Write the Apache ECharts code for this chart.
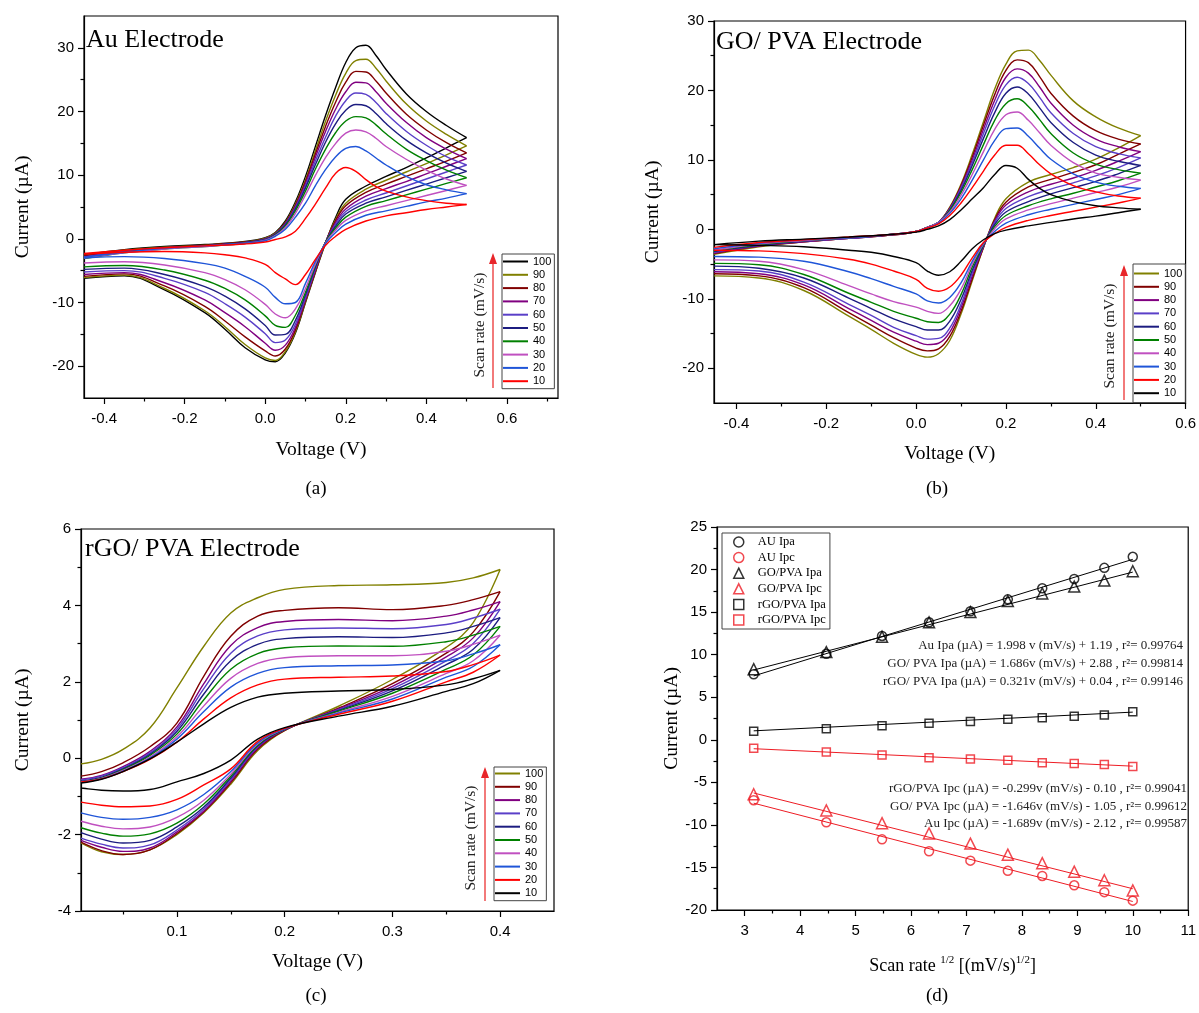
<!DOCTYPE html>
<html><head><meta charset="utf-8">
<script src="https://cdn.jsdelivr.net/npm/echarts@6/dist/echarts.min.js"></script>
<style>html,body{margin:0;padding:0;background:#fff}#c{width:1199px;height:1013px}</style>
</head><body><div id="c"></div><script>
// ---------- DATA ----------
const RATES = ['100','90','80','70','60','50','40','30','20','10'];

// Panel (a) Au electrode: forward (upper) and reverse (lower) branches
const aV_up = [-0.45,-0.35,-0.25,-0.15,-0.05,0.0,0.025,0.05,0.075,0.1,0.125,0.15,0.175,0.2,0.225,0.25,0.275,0.3,0.35,0.4,0.45,0.5];
const aV_dn = [0.5,0.45,0.4,0.35,0.3,0.25,0.2,0.175,0.15,0.125,0.1,0.075,0.05,0.025,0.0,-0.05,-0.1,-0.15,-0.25,-0.35,-0.45];
const aUp = [
 [-2.5,-1.7,-1.2,-0.9,-0.4,0.2,1.0,2.8,5.8,9.8,14.6,19.4,23.8,27.7,30.0,30.4,28.8,26.6,22.8,20.0,17.8,15.9],
 [-2.6,-1.8,-1.3,-1.0,-0.5,0.1,0.9,2.6,5.5,9.3,13.9,18.5,22.6,26.0,28.0,28.2,26.8,24.8,21.2,18.5,16.4,14.6],
 [-2.7,-1.9,-1.4,-1.0,-0.5,0.0,0.8,2.5,5.3,9.0,13.4,17.7,21.5,24.6,26.3,26.2,24.8,22.9,19.6,17.1,15.1,13.5],
 [-2.8,-2.0,-1.4,-1.1,-0.6,0.0,0.8,2.4,5.1,8.7,12.9,16.9,20.4,23.1,24.6,24.5,23.1,21.3,18.3,15.9,14.1,12.6],
 [-2.9,-2.0,-1.5,-1.1,-0.6,-0.1,0.7,2.3,4.9,8.3,12.3,16.0,19.3,21.7,22.9,22.7,21.4,19.7,16.9,14.7,12.9,11.6],
 [-3.0,-2.1,-1.5,-1.1,-0.6,-0.1,0.7,2.2,4.7,8.0,11.7,15.2,18.1,20.2,21.1,20.9,19.7,18.1,15.5,13.5,11.9,10.6],
 [-3.1,-2.2,-1.6,-1.2,-0.7,-0.2,0.6,2.0,4.4,7.5,11.0,14.1,16.7,18.5,19.2,19.0,17.9,16.5,14.1,12.3,10.8,9.6],
 [-3.0,-2.2,-1.6,-1.2,-0.7,-0.2,0.5,1.8,4.0,6.9,10.0,12.8,15.0,16.6,17.1,16.8,15.8,14.5,12.5,10.8,9.4,8.4],
 [-2.9,-2.1,-1.5,-1.1,-0.7,-0.3,0.4,1.5,3.4,5.6,8.4,10.9,12.9,14.2,14.5,13.8,12.7,11.6,9.8,8.5,7.7,7.1],
 [-2.3,-1.8,-1.4,-1.1,-0.8,-0.5,-0.1,0.3,1.2,3.2,5.5,8.0,10.3,11.2,10.6,9.3,8.2,7.5,6.6,6.0,5.6,5.4]
];
const aDn = [
 [15.9,14.3,12.7,11.2,9.8,8.3,6.2,3.4,-0.6,-5.2,-10.0,-14.8,-17.9,-19.3,-19.0,-17.1,-14.2,-11.6,-8.0,-5.8,-6.2],
 [14.6,13.2,11.8,10.5,9.2,7.8,5.6,3.1,-0.6,-5.1,-9.9,-14.6,-17.7,-19.1,-18.7,-16.6,-13.8,-11.3,-7.8,-5.7,-6.1],
 [13.5,12.2,11.0,9.8,8.6,7.3,5.2,2.9,-0.5,-5.0,-9.7,-14.3,-17.3,-18.4,-17.6,-15.4,-12.9,-10.6,-7.4,-5.5,-5.9],
 [12.6,11.4,10.2,9.0,7.9,6.7,4.7,2.6,-0.5,-4.8,-9.5,-13.9,-16.7,-17.5,-16.4,-13.8,-11.6,-9.6,-6.9,-5.3,-5.6],
 [11.6,10.5,9.4,8.3,7.2,6.1,4.3,2.3,-0.5,-4.6,-9.2,-13.4,-15.9,-16.3,-14.9,-12.3,-10.2,-8.4,-6.2,-5.0,-5.2],
 [10.6,9.6,8.6,7.6,6.6,5.6,3.9,2.0,-0.5,-4.4,-8.8,-12.8,-15.0,-15.1,-13.6,-11.0,-9.0,-7.5,-5.6,-4.6,-4.8],
 [9.6,8.7,7.8,6.9,6.0,5.1,3.4,1.7,-0.5,-4.1,-8.4,-12.0,-13.9,-13.6,-12.1,-9.6,-7.8,-6.5,-4.9,-4.2,-4.4],
 [8.4,7.6,6.8,6.0,5.2,4.4,2.9,1.4,-0.6,-3.9,-7.8,-11.0,-12.4,-11.8,-10.3,-8.0,-6.4,-5.3,-4.1,-3.6,-3.8],
 [7.1,6.4,5.8,5.1,4.4,3.7,2.3,1.0,-0.7,-3.5,-7.0,-10.0,-10.2,-9.2,-7.6,-5.9,-4.6,-3.9,-3.1,-2.8,-3.0],
 [5.4,5.0,4.6,4.1,3.6,2.8,1.5,0.4,-1.0,-3.2,-5.6,-7.2,-6.3,-5.3,-4.0,-3.0,-2.5,-2.2,-2.0,-2.1,-2.4]
];

// Panel (b) GO/PVA electrode
const bV_up = [-0.45,-0.35,-0.25,-0.15,-0.05,0.0,0.025,0.05,0.075,0.1,0.125,0.15,0.175,0.2,0.225,0.25,0.275,0.3,0.35,0.4,0.45,0.5];
const bV_dn = [0.5,0.45,0.4,0.35,0.3,0.25,0.2,0.175,0.15,0.125,0.1,0.075,0.05,0.025,0.0,-0.05,-0.1,-0.15,-0.25,-0.35,-0.45];
const bUp = [
 [-3.6,-2.5,-1.8,-1.3,-0.8,-0.3,0.3,1.0,3.2,6.5,10.8,15.5,20.2,23.8,25.7,25.8,24.3,22.2,18.5,16.2,14.6,13.5],
 [-3.5,-2.4,-1.8,-1.3,-0.8,-0.3,0.3,1.0,3.1,6.3,10.4,15.0,19.4,22.9,24.4,24.0,22.0,19.6,16.3,14.2,13.0,12.3],
 [-3.4,-2.4,-1.8,-1.3,-0.8,-0.3,0.3,1.0,3.0,6.1,10.0,14.4,18.6,21.9,23.1,22.5,20.5,18.2,15.0,13.0,11.9,11.2],
 [-3.3,-2.3,-1.7,-1.3,-0.7,-0.3,0.3,1.0,2.9,5.9,9.6,13.8,17.8,20.8,21.9,21.0,19.0,16.8,13.8,11.9,10.9,10.3],
 [-3.2,-2.3,-1.7,-1.2,-0.7,-0.3,0.3,1.0,2.8,5.6,9.2,13.1,16.8,19.6,20.5,19.5,17.5,15.4,12.5,10.7,9.8,9.2],
 [-3.1,-2.2,-1.6,-1.2,-0.7,-0.3,0.3,1.0,2.7,5.3,8.6,12.2,15.7,18.1,18.8,17.7,15.8,13.8,11.0,9.4,8.6,8.1],
 [-3.0,-2.1,-1.6,-1.2,-0.7,-0.3,0.3,1.0,2.5,4.9,7.9,11.2,14.4,16.5,16.9,15.7,13.9,12.1,9.6,8.1,7.5,7.1],
 [-2.8,-2.0,-1.5,-1.2,-0.7,-0.3,0.2,0.9,2.3,4.4,7.1,10.0,12.8,14.5,14.6,13.4,11.7,10.1,8.0,6.8,6.2,5.9],
 [-2.6,-1.9,-1.5,-1.1,-0.7,-0.3,0.2,0.8,2.0,3.8,6.0,8.4,10.7,12.1,12.1,10.9,9.3,8.0,6.3,5.4,4.8,4.5],
 [-2.2,-1.7,-1.4,-1.1,-0.7,-0.4,0.0,0.5,1.4,2.8,4.4,6.0,7.9,9.2,8.8,7.2,5.9,5.0,4.0,3.4,3.1,2.9]
];
const bDn = [
 [13.5,11.7,10.1,8.9,7.9,6.8,4.4,1.6,-2.6,-7.4,-12.2,-16.0,-17.9,-18.4,-18.0,-16.4,-14.4,-12.5,-8.8,-7.0,-6.7],
 [12.3,10.8,9.3,8.2,7.2,6.1,3.9,1.4,-2.6,-7.1,-11.8,-15.4,-17.2,-17.5,-17.1,-15.6,-13.8,-12.0,-8.4,-6.7,-6.4],
 [11.2,9.8,8.5,7.4,6.5,5.4,3.5,1.2,-2.5,-6.7,-11.3,-14.8,-16.4,-16.6,-16.1,-14.8,-13.1,-11.4,-8.0,-6.4,-6.1],
 [10.3,8.9,7.7,6.7,5.8,4.7,3.0,1.0,-2.4,-6.3,-10.8,-14.2,-15.7,-15.8,-15.3,-14.1,-12.4,-10.8,-7.6,-6.0,-5.8],
 [9.2,8.0,6.9,6.0,5.1,4.0,2.5,0.7,-2.3,-5.9,-10.1,-13.2,-14.5,-14.5,-14.0,-12.9,-11.4,-9.9,-7.0,-5.6,-5.3],
 [8.1,7.0,6.1,5.2,4.4,3.4,2.0,0.4,-2.2,-5.4,-9.4,-12.2,-13.4,-13.3,-12.8,-11.8,-10.5,-9.2,-6.5,-5.1,-4.9],
 [7.1,6.1,5.3,4.5,3.7,2.8,1.5,0.1,-2.1,-5.0,-8.6,-11.0,-12.1,-11.8,-11.2,-10.4,-9.3,-8.1,-5.8,-4.6,-4.4],
 [5.9,5.0,4.3,3.6,2.9,2.1,0.9,-0.3,-2.0,-4.6,-7.7,-9.8,-10.6,-10.3,-9.3,-8.2,-7.1,-6.1,-4.6,-4.0,-3.9],
 [4.5,3.8,3.2,2.6,2.0,1.3,0.3,-0.6,-1.9,-4.1,-6.6,-8.3,-8.9,-8.5,-7.2,-6.0,-5.0,-4.3,-3.5,-3.1,-3.0],
 [2.9,2.4,1.9,1.5,1.0,0.5,-0.1,-0.6,-1.5,-2.8,-4.6,-6.1,-6.6,-6.0,-4.8,-3.9,-3.3,-3.0,-2.5,-2.3,-2.2]
];

// Panel (c) rGO/PVA electrode
const cV_up = [0.011,0.03,0.05,0.075,0.1,0.125,0.15,0.175,0.2,0.25,0.3,0.35,0.375,0.4];
const cV_dn = [0.4,0.375,0.35,0.3,0.25,0.2,0.175,0.15,0.125,0.1,0.075,0.05,0.03,0.011];
const cUp = [
 [-0.15,-0.03,0.23,0.79,1.84,2.93,3.8,4.2,4.42,4.52,4.54,4.6,4.72,4.94],
 [-0.47,-0.35,-0.12,0.3,0.92,2.15,3.19,3.72,3.87,3.94,3.89,4.0,4.15,4.36],
 [-0.55,-0.45,-0.22,0.18,0.82,1.95,2.95,3.42,3.58,3.63,3.6,3.72,3.88,4.1],
 [-0.57,-0.47,-0.25,0.14,0.76,1.82,2.75,3.2,3.36,3.41,3.39,3.5,3.67,3.9],
 [-0.6,-0.5,-0.28,0.1,0.7,1.68,2.55,2.98,3.13,3.18,3.16,3.28,3.45,3.68],
 [-0.62,-0.52,-0.3,0.07,0.63,1.53,2.33,2.74,2.89,2.94,2.93,3.05,3.22,3.45],
 [-0.62,-0.53,-0.32,0.03,0.56,1.37,2.09,2.48,2.63,2.68,2.68,2.8,2.98,3.22],
 [-0.63,-0.54,-0.34,0.0,0.5,1.22,1.86,2.22,2.37,2.42,2.44,2.55,2.73,2.97],
 [-0.62,-0.54,-0.35,-0.03,0.42,1.03,1.58,1.92,2.07,2.12,2.15,2.27,2.45,2.7],
 [-0.65,-0.55,-0.35,-0.02,0.42,0.9,1.33,1.6,1.7,1.76,1.8,1.92,2.08,2.3]
];
const cDn = [
 [4.94,3.55,2.9,2.06,1.36,0.72,0.2,-0.68,-1.43,-2.0,-2.4,-2.52,-2.45,-2.22],
 [4.36,3.3,2.75,1.95,1.31,0.73,0.24,-0.64,-1.4,-1.97,-2.4,-2.52,-2.42,-2.2],
 [4.1,3.15,2.65,1.88,1.29,0.74,0.27,-0.6,-1.38,-1.93,-2.35,-2.44,-2.33,-2.15],
 [3.9,3.0,2.55,1.82,1.27,0.75,0.3,-0.56,-1.33,-1.88,-2.27,-2.35,-2.25,-2.09],
 [3.68,2.85,2.45,1.76,1.25,0.75,0.32,-0.52,-1.28,-1.8,-2.15,-2.22,-2.12,-1.95],
 [3.45,2.7,2.33,1.7,1.23,0.76,0.34,-0.47,-1.2,-1.7,-1.98,-2.04,-1.96,-1.82],
 [3.22,2.55,2.22,1.62,1.2,0.77,0.37,-0.42,-1.1,-1.55,-1.8,-1.85,-1.78,-1.65],
 [2.97,2.4,2.12,1.55,1.18,0.77,0.4,-0.35,-0.95,-1.35,-1.55,-1.6,-1.55,-1.43],
 [2.7,2.25,2.0,1.49,1.15,0.78,0.44,-0.28,-0.7,-1.08,-1.25,-1.27,-1.23,-1.15],
 [2.3,1.95,1.75,1.36,1.1,0.8,0.5,-0.05,-0.4,-0.62,-0.82,-0.86,-0.84,-0.78]
];

// Panel (d) peak currents vs sqrt(scan rate)
const dX = [3.162,4.472,5.477,6.325,7.071,7.746,8.367,8.944,9.487,10.0];
const auIpa = [7.7,10.1,12.2,13.8,15.1,16.5,17.8,18.9,20.2,21.5];
const auIpc = [-7.1,-9.7,-11.7,-13.1,-14.2,-15.4,-16.0,-17.1,-17.9,-18.9];
const goIpa = [8.3,10.3,12.1,13.8,15.0,16.3,17.2,18.0,18.7,19.8];
const goIpc = [-6.4,-8.3,-9.8,-11.0,-12.2,-13.5,-14.5,-15.5,-16.5,-17.7];
const rgoIpa = [1.0,1.3,1.65,1.95,2.15,2.4,2.6,2.75,2.9,3.3];
const rgoIpc = [-1.0,-1.45,-1.8,-2.1,-2.25,-2.4,-2.7,-2.8,-2.9,-3.15];
// fitted line end points
const fitX = [3.162,10.0];
const auIpaFit = [7.5,21.2];
const goIpaFit = [8.2,19.7];
const rgoIpaFit = [1.05,3.25];
const rgoIpcFit = [-1.05,-3.1];
const goIpcFit = [-6.25,-17.5];
const auIpcFit = [-7.45,-19.0];
const eqTop = [
 'Au Ipa (\u00b5A) = 1.998 v (mV/s) + 1.19 , r\u00b2= 0.99764',
 'GO/ PVA Ipa (\u00b5A) = 1.686v (mV/s) + 2.88 , r\u00b2= 0.99814',
 'rGO/ PVA Ipa (\u00b5A) = 0.321v (mV/s) + 0.04 , r\u00b2= 0.99146'
];
const eqBottom = [
 'rGO/PVA Ipc (\u00b5A) = -0.299v (mV/s) - 0.10 , r\u00b2= 0.99041',
 'GO/ PVA Ipc (\u00b5A) = -1.646v (mV/s) - 1.05 , r\u00b2= 0.99612',
 'Au Ipc (\u00b5A) = -1.689v (mV/s) - 2.12 , r\u00b2= 0.99587'
];

// tick values
const abXMajor = [-0.4,-0.2,0,0.2,0.4,0.6];
const aXMinor = [-0.3,-0.1,0.1,0.3,0.5,0.7];
const bXMinor = [-0.3,-0.1,0.1,0.3,0.5];
const abYMajor = [-20,-10,0,10,20,30];
const aYMinor = [-15,-5,5,15,25];
const bYMinor = [-15,-5,5,15,25];
const cXMajor = [0.1,0.2,0.3,0.4];
const cXMinor = [0.05,0.15,0.25,0.35];
const cYMajor = [-4,-2,0,2,4,6];
const cYMinor = [-3,-1,1,3,5];
const dXMajor = [3,4,5,6,7,8,9,10,11];
const dXMinor = [3.5,4.5,5.5,6.5,7.5,8.5,9.5,10.5];
const dYMajor = [-20,-15,-10,-5,0,5,10,15,20,25];
const dYMinor = [-17.5,-12.5,-7.5,-2.5,2.5,7.5,12.5,17.5,22.5];

// ---------- STYLE ----------
const SANS = '"Liberation Sans", Arial, sans-serif';
const SERIF = '"Liberation Serif", "Times New Roman", serif';
const COL_A = ['#000000','#808000','#800000','#800080','#5a3fc8','#1c1c80','#008000','#c050c0','#1f55d8','#ff0000'];
const COL_BC = ['#808000','#800000','#800080','#5a3fc8','#1c1c80','#008000','#c050c0','#1f55d8','#ff0000','#000000'];
const RED = '#ee1c24';

const grids = [
  {left:84, top:16, width:474, height:382},
  {left:714, top:21, width:474, height:382},
  {left:81, top:529, width:473, height:382},
  {left:717, top:527, width:473, height:383}
].map(g => Object.assign(g, {show:true, borderColor:'#000', borderWidth:1.2, backgroundColor:'transparent'}));

function fmt1(v){ return v.toFixed(1); }
function fmt0(v){ return String(v); }

function axisPair(dim, g, min, max, major, minor, fmt, name, nameGap, nameStyle) {
  const pos = dim === 'x' ? 'bottom' : 'left';
  const main = {
    type:'value', gridIndex:g, min, max, position:pos,
    axisLine:{show:true, onZero:false, lineStyle:{color:'#000', width:1.2}},
    axisTick:{show:true, customValues:major, length:6, lineStyle:{color:'#000', width:1.2}},
    axisLabel:{show:true, customValues:major, formatter:fmt, margin: dim==='x'?13:10,
      fontFamily:SANS, fontSize:15, color:'#000'},
    splitLine:{show:false},
    name, nameLocation:'middle', nameGap,
    nameTextStyle: nameStyle || {fontFamily:SERIF, fontSize:19.5, color:'#000'}
  };
  if (dim === 'y') main.nameRotate = 90;
  const sub = {
    type:'value', gridIndex:g, min, max, position:pos,
    axisLine:{show:false, onZero:false},
    axisTick:{show:true, customValues:minor, length:3.5, lineStyle:{color:'#000', width:1.2}},
    axisLabel:{show:false}, splitLine:{show:false}
  };
  return [main, sub];
}

const dXNameStyle = {
  rich:{
    t:{fontFamily:SERIF, fontSize:18, color:'#000', lineHeight:22},
    s:{fontFamily:SERIF, fontSize:11, color:'#000', lineHeight:12, verticalAlign:'top'}
  }
};

const xAxis = [].concat(
  axisPair('x',0,-0.45,0.727,abXMajor,aXMinor,fmt1,'Voltage (V)',42),
  axisPair('x',1,-0.45,0.6,abXMajor,bXMinor,fmt1,'Voltage (V)',41),
  axisPair('x',2,0.011,0.45,cXMajor,cXMinor,fmt1,'Voltage (V)',41),
  axisPair('x',3,2.5,11,dXMajor,dXMinor,fmt0,'{t|Scan rate }{s|1/2}{t| [(mV/s)}{s|1/2}{t|]}',45,dXNameStyle)
);
const yAxis = [].concat(
  axisPair('y',0,-25,35,abYMajor,aYMinor,fmt0,'Current (\u00b5A)',51),
  axisPair('y',1,-25,30,abYMajor,bYMinor,fmt0,'Current (\u00b5A)',51),
  axisPair('y',2,-4,6,cYMajor,cYMinor,fmt0,'Current (\u00b5A)',48),
  axisPair('y',3,-20,25,dYMajor,dYMinor,fmt0,'Current (\u00b5A)',33)
);

function cvSeries(prefix, axisIdx, vUp, up, vDn, dn, colors) {
  const out = [];
  RATES.forEach((r, i) => {
    const common = {type:'line', name:prefix + r, xAxisIndex:axisIdx, yAxisIndex:axisIdx,
      smooth:0.4, symbol:'none', showSymbol:false, silent:true,
      lineStyle:{color:colors[i], width:1.4}, itemStyle:{color:colors[i]}};
    out.push(Object.assign({}, common, {data: vUp.map((v,k) => [v, up[i][k]])}));
    out.push(Object.assign({}, common, {data: vDn.map((v,k) => [v, dn[i][k]])}));
  });
  return out;
}

function scatter(name, ys, color, symbol, size) {
  return {type:'scatter', name, xAxisIndex:6, yAxisIndex:6, symbol, symbolSize:size,
    data: dX.map((x,i) => [x, ys[i]]), z:5,
    itemStyle:{color:'rgba(255,255,255,0)', borderColor:color, borderWidth:1.5}};
}
function fitLine(name, ys, color) {
  return {type:'line', name, xAxisIndex:6, yAxisIndex:6, symbol:'none', silent:true, z:3,
    data: fitX.map((x,i) => [x, ys[i]]), lineStyle:{color, width:1}};
}

const series = [].concat(
  cvSeries('a', 0, aV_up, aUp, aV_dn, aDn, COL_A),
  cvSeries('b', 2, bV_up, bUp, bV_dn, bDn, COL_BC),
  cvSeries('c', 4, cV_up, cUp, cV_dn, cDn, COL_BC),
  [
    fitLine('fit1', auIpaFit, '#000'), fitLine('fit2', goIpaFit, '#000'), fitLine('fit3', rgoIpaFit, '#000'),
    fitLine('fit4', rgoIpcFit, RED), fitLine('fit5', goIpcFit, RED), fitLine('fit6', auIpcFit, RED),
    scatter('AU Ipa', auIpa, '#000', 'circle', 9),
    scatter('AU Ipc', auIpc, RED, 'circle', 9),
    scatter('GO/PVA Ipa', goIpa, '#000', 'triangle', 11),
    scatter('GO/PVA Ipc', goIpc, RED, 'triangle', 11),
    scatter('rGO/PVA Ipa', rgoIpa, '#000', 'rect', 8),
    scatter('rGO/PVA Ipc', rgoIpc, RED, 'rect', 8)
  ]
);

function cvLegend(prefix, left, top, padding) {
  return {data: RATES.map(r => ({name: prefix + r, icon:'rect'})), formatter: n => n.slice(1),
    orient:'vertical', left, top, padding, itemWidth:25, itemHeight:2, itemGap:0.3,
    borderColor:'#444', borderWidth:1, selectedMode:false,
    itemStyle:{borderWidth:0},
    textStyle:{fontFamily:SANS, fontSize:11, color:'#000', lineHeight:13}};
}
const legend = [
  cvLegend('a', 502, 254, [1,3,1,1]),
  cvLegend('b', 1133, 264, [3,3,3,1]),
  cvLegend('c', 494, 767, [0,3,1,1]),
  {data:['AU Ipa','AU Ipc','GO/PVA Ipa','GO/PVA Ipc','rGO/PVA Ipa','rGO/PVA Ipc'],
   orient:'vertical', left:722, top:533, padding:[2,4,2,11], itemWidth:10, itemHeight:10, itemGap:1.6,
   borderColor:'#444', borderWidth:1, selectedMode:false,
   itemStyle:{borderWidth:1.5},
   textStyle:{fontFamily:SERIF, fontSize:12.5, color:'#000', lineHeight:14, padding:[0,0,0,9]}}
];

const title = [
  {text:'Au Electrode', left:86, top:27},
  {text:'GO/ PVA Electrode', left:716, top:29},
  {text:'rGO/ PVA Electrode', left:85, top:536}
].map(t => Object.assign(t, {padding:0, textStyle:{fontFamily:SERIF, fontSize:26, fontWeight:'normal', color:'#000'}}));

function arrow(x, yTop, yBot) {
  return [
    {type:'line', shape:{x1:x, y1:yBot, x2:x, y2:yTop+8}, style:{stroke:'#f27a7a', lineWidth:2}},
    {type:'polygon', shape:{points:[[x-4,yTop+11],[x+4,yTop+11],[x,yTop]]}, style:{fill:'#e8262a'}}
  ];
}
function rotText(x, y, text) {
  return {type:'text', x, y, rotation:Math.PI/2,
    style:{text, fontFamily:SERIF, fontSize:15.5, fill:'#222', align:'center', verticalAlign:'middle'}};
}
function label(x, y, text) {
  return {type:'text', x, y, style:{text, fontFamily:SERIF, fontSize:19, fill:'#000', align:'center', verticalAlign:'middle'}};
}
function eqText(x, y, text) {
  return {type:'text', x, y, style:{text, fontFamily:SERIF, fontSize:13, fill:'#222', align:'right', verticalAlign:'middle'}};
}

const graphic = [].concat(
  arrow(493, 253, 388), arrow(1124, 265, 400), arrow(485, 767, 901),
  [rotText(480, 325, 'Scan rate (mV/s)'), rotText(1110, 336, 'Scan rate (mV/s)'), rotText(471, 838, 'Scan rate (mV/s)')],
  [label(316, 489, '(a)'), label(937, 489, '(b)'), label(316, 996, '(c)'), label(937, 996, '(d)')],
  eqTop.map((t, i) => eqText(1183, [646, 664, 682][i], t)),
  eqBottom.map((t, i) => eqText(1187, [789, 807, 824][i], t))
);

const chart = echarts.init(document.getElementById('c'), null, {renderer:'canvas'});
chart.setOption({
  animation:false,
  backgroundColor:'#fff',
  title, legend, grid:grids, xAxis, yAxis, series, graphic
});
</script></body></html>
